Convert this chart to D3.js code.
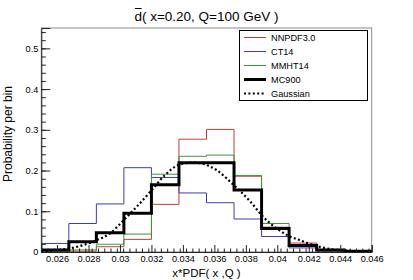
<!DOCTYPE html>
<html>
<head>
<meta charset="utf-8">
<script src="https://cdn.jsdelivr.net/npm/d3@7"></script>
<style>
body { margin: 0; background: #fff; }
svg { display: block; font-family: "Liberation Sans", Arial, sans-serif; }
</style>
</head>
<body>
<div id="chart"></div>
<script>
// bin edges of x*PDF(x,Q) and probability per bin for each PDF set
var binEdges = [0.025, 0.02675, 0.0285, 0.03025, 0.032, 0.03375, 0.0355,
    0.03725, 0.039, 0.04075, 0.0425, 0.04425, 0.046];

var nnpdf = [0, 0.002, 0.013, 0.031, 0.117, 0.277, 0.301, 0.186, 0.061, 0.022, 0.003, 0];
var ct14 = [0.021, 0.070, 0.118, 0.207, 0.183, 0.145, 0.121, 0.081, 0.038, 0.010, 0.003, 0];
var mmht14 = [0.002, 0.005, 0.019, 0.044, 0.191, 0.235, 0.238, 0.188, 0.070, 0.018, 0.003, 0];
var mc900 = [0.005, 0.025, 0.047, 0.095, 0.165, 0.219, 0.219, 0.152, 0.058, 0.016, 0.005, 0.002];

var gaussX = [0.025, 0.026, 0.02682, 0.02767, 0.02852, 0.02937, 0.03026, 0.03106, 0.03202,
    0.03286, 0.03375, 0.03466, 0.03547, 0.03615, 0.03699, 0.03826, 0.03909, 0.03996,
    0.0407, 0.04144, 0.0422, 0.0430, 0.0438, 0.0446, 0.046];
var gaussY = [0.002, 0.005, 0.009, 0.017, 0.029, 0.046, 0.079, 0.111, 0.152,
    0.189, 0.214, 0.220, 0.214, 0.201, 0.173, 0.125, 0.087, 0.058,
    0.040, 0.029, 0.018, 0.010, 0.005, 0.003, 0.001];

var xTicks = [0.026, 0.028, 0.03, 0.032, 0.034, 0.036, 0.038, 0.04, 0.042, 0.044, 0.046];
var yTicks = [0, 0.1, 0.2, 0.3, 0.4, 0.5];

var series = [
    { name: 'NNPDF3.0', values: nnpdf, color: '#c43c3c', width: 1 },
    { name: 'CT14', values: ct14, color: '#3c3cb4', width: 1 },
    { name: 'MMHT14', values: mmht14, color: '#3c963c', width: 1 },
    { name: 'MC900', values: mc900, color: '#000', width: 3 }
];

var W = 413, H = 280;
var margin = { top: 28, right: 41.3, bottom: 28, left: 41.3 };
var width = W - margin.left - margin.right,
    height = H - margin.top - margin.bottom;

var xScale = d3.scaleLinear()
    .domain([0.025, 0.046])
    .range([0, width]);

var yScale = d3.scaleLinear()
    .domain([0, 0.55])
    .range([height, 0]);

var svg = d3.select('#chart').append('svg')
    .attr('width', W)
    .attr('height', H);

var plot = svg.append('g')
    .attr('transform', 'translate(' + margin.left + ', ' + margin.top + ')');

plot.append('clipPath').attr('id', 'frameclip')
    .append('rect')
    .attr('width', width)
    .attr('height', height);

plot.append('rect')
    .attr('width', width)
    .attr('height', height)
    .style('fill', 'none')
    .style('stroke', '#8a8a8a')
    .style('stroke-width', 1);

// step outline for a histogram
function steps(vals) {
    var pts = [[binEdges[0], 0]];
    vals.forEach(function (v, i) {
        pts.push([binEdges[i], v]);
        pts.push([binEdges[i + 1], v]);
    });
    pts.push([binEdges[binEdges.length - 1], 0]);
    return pts;
}

var stepLine = d3.line()
    .x(function (d) { return xScale(d[0]); })
    .y(function (d) { return yScale(d[1]); });

var marks = plot.append('g').attr('clip-path', 'url(#frameclip)');

marks.selectAll('path.hist')
    .data(series)
    .enter().append('path')
    .attr('class', 'hist')
    .attr('d', function (d) { return stepLine(steps(d.values)); })
    .style('fill', 'none')
    .style('stroke', function (d) { return d.color; })
    .style('stroke-width', function (d) { return d.width; })
    .style('stroke-linejoin', 'miter');

var gaussLine = d3.line()
    .x(function (d, i) { return xScale(gaussX[i]); })
    .y(function (d) { return yScale(d); })
    .curve(d3.curveMonotoneX);

marks.append('path')
    .attr('d', gaussLine(gaussY))
    .style('fill', 'none')
    .style('stroke', '#000')
    .style('stroke-width', 2.2)
    .style('stroke-dasharray', '2,2.4');

// axes, ticks pointing into the frame
var yAxis = d3.axisLeft(yScale)
    .tickValues(yTicks)
    .tickSize(-9)
    .tickPadding(3)
    .tickFormat(d3.format('~g'));

var yMinor = d3.axisLeft(yScale)
    .tickValues(d3.range(0, 0.55, 0.02))
    .tickSize(-4.5)
    .tickFormat('');

var xAxis = d3.axisBottom(xScale)
    .tickValues(xTicks)
    .tickSize(-7)
    .tickPadding(3)
    .tickFormat(d3.format('~g'));

var xMinor = d3.axisBottom(xScale)
    .tickValues(d3.range(0.0254, 0.0461, 0.0004))
    .tickSize(-3.5)
    .tickFormat('');

var gy = plot.append('g').call(yMinor);
gy.select('.domain').remove();
var gy2 = plot.append('g').call(yAxis);

var gx = plot.append('g').attr('transform', 'translate(0,' + height + ')').call(xMinor);
gx.select('.domain').remove();
var gx2 = plot.append('g').attr('transform', 'translate(0,' + height + ')').call(xAxis);

plot.selectAll('.tick line').style('stroke', '#222');
plot.selectAll('.domain').style('stroke', '#222');
plot.selectAll('.tick text')
    .style('font-size', '9.2px')
    .style('font-family', '"Liberation Sans", Arial, sans-serif')
    .style('fill', '#000');

// axis titles
svg.append('text')
    .attr('x', margin.left + width / 2)
    .attr('y', 277)
    .attr('text-anchor', 'middle')
    .style('font-size', '11.5px')
    .text('x*PDF( x ,Q )');

svg.append('text')
    .attr('transform', 'translate(12,' + (margin.top + height / 2 - 6) + ') rotate(-90)')
    .attr('text-anchor', 'middle')
    .style('font-size', '12px')
    .text('Probability per bin');

// title with a bar over the d
var title = svg.append('text')
    .attr('x', W / 2)
    .attr('y', 21)
    .attr('text-anchor', 'middle')
    .style('font-size', '13.5px')
    .text('d( x=0.20, Q=100 GeV )');

var tnode = title.node();
var dStart = tnode.getStartPositionOfChar(0);
var dEnd = tnode.getEndPositionOfChar(0);
svg.append('line')
    .attr('x1', dStart.x + 0.5)
    .attr('x2', dEnd.x - 0.3)
    .attr('y1', 8.5)
    .attr('y2', 8.5)
    .style('stroke', '#000')
    .style('stroke-width', 1);

// legend
var legend = svg.append('g');
legend.append('rect')
    .attr('x', 239.5)
    .attr('y', 30.5)
    .attr('width', 128)
    .attr('height', 70)
    .style('fill', '#fff')
    .style('stroke', '#000')
    .style('stroke-width', 1);

var legendItems = series.concat([{ name: 'Gaussian', color: '#000', width: 2.2, dash: '2,2.4' }]);

var items = legend.selectAll('g.item')
    .data(legendItems)
    .enter().append('g')
    .attr('class', 'item')
    .attr('transform', function (d, i) { return 'translate(0,' + (37.5 + i * 14) + ')'; });

items.append('line')
    .attr('x1', 244)
    .attr('x2', 266)
    .style('stroke', function (d) { return d.color; })
    .style('stroke-width', function (d) { return d.width; })
    .style('stroke-dasharray', function (d) { return d.dash || null; });

items.append('text')
    .attr('x', 271)
    .attr('dy', '0.35em')
    .style('font-size', '9.2px')
    .text(function (d) { return d.name; });
</script>
</body>
</html>
